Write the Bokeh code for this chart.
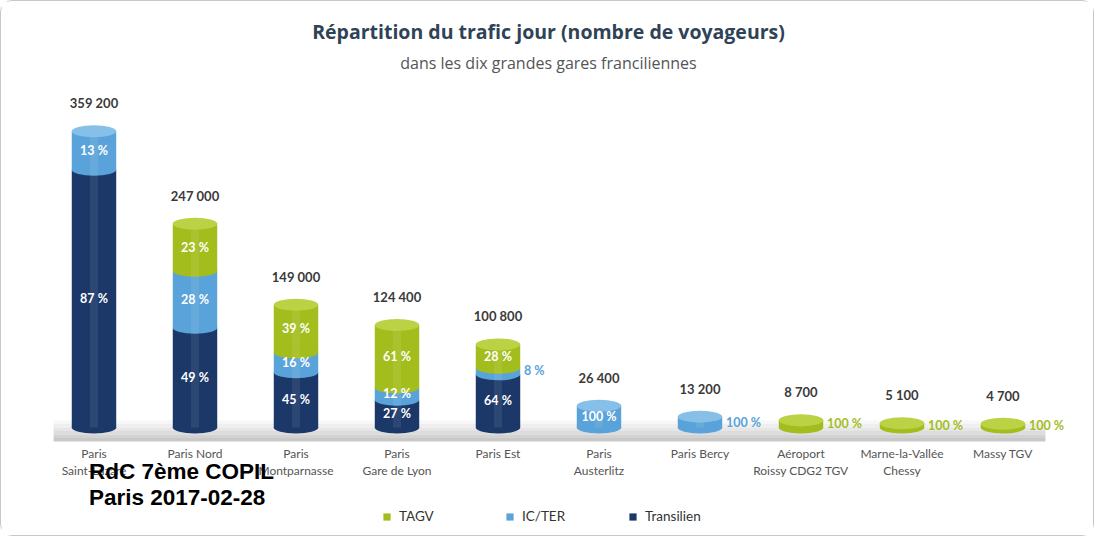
from bokeh.plotting import figure
from bokeh.models import (ColumnDataSource, Legend, LegendItem, Title, BoxAnnotation,
                          Label, FactorRange, Range1d)
from bokeh.embed import file_html
from bokeh.resources import INLINE
from bokeh.core.properties import value

# ---------------- data ----------------
stations = ["Paris\nSaint-Lazare", "Paris Nord", "Paris\nMontparnasse", "Paris\nGare de Lyon",
            "Paris Est", "Paris\nAusterlitz", "Paris Bercy", "Aéroport\nRoissy CDG2 TGV",
            "Marne-la-Vallée\nChessy", "Massy TGV"]
totals = [359200, 247000, 149000, 124400, 100800, 26400, 13200, 8700, 5100, 4700]
total_labels = ["359 200", "247 000", "149 000", "124 400", "100 800",
                "26 400", "13 200", "8 700", "5 100", "4 700"]
transilien_pct = [87, 49, 45, 27, 64, 0, 0, 0, 0, 0]
icter_pct = [13, 28, 16, 12, 8, 100, 100, 0, 0, 0]
tagv_pct = [0, 23, 39, 61, 28, 0, 0, 100, 100, 100]

series = ["Transilien", "IC/TER", "TAGV"]          # stacking order, bottom to top
pcts = {"Transilien": transilien_pct, "IC/TER": icter_pct, "TAGV": tagv_pct}
colors = {"Transilien": "#1c3869", "IC/TER": "#5aa3da", "TAGV": "#a3bd1c"}
cap_colors = {"Transilien": "#2c4a80", "IC/TER": "#86c0e8", "TAGV": "#bcd245"}

title_main = "Répartition du trafic jour (nombre de voyageurs)"
title_sub = "dans les dix grandes gares franciliennes"
overlay_1 = "RdC 7ème COPIL"
overlay_2 = "Paris 2017-02-28"

FONT = "Lato"
TFONT = "Open Sans"
BAR_W = 0.44
CAP_H = 12

p = figure(x_range=FactorRange(*stations, range_padding=0.297, range_padding_units="absolute"),
           y_range=Range1d(-123700, 423300),
           width=1094, height=536, output_backend="svg", toolbar_location=None,
           min_border_left=12, min_border_right=12, min_border_top=77, min_border_bottom=8)
p.styles = {"border": "1.5px solid #c8c8c8", "border-radius": "12px"}
p.outline_line_color = None
p.xgrid.grid_line_color = None
p.ygrid.grid_line_color = None
p.yaxis.visible = False
p.xaxis.visible = False

# floor band (gradient from light to grey)
floor_cols = ["#f7f7f7", "#efefef", "#e6e6e6", "#dcdcdc", "#d2d2d2", "#c8c8c8"]
edges = [8500, 4200, 0, -4200, -8400, -12600, -17000]
for i, c in enumerate(floor_cols):
    p.add_layout(BoxAnnotation(left=0.1, right=9.92, top=edges[i], bottom=edges[i + 1],
                               fill_color=c, fill_alpha=1, line_color=None, level="underlay"))

# ---------------- cylinders ----------------
bottom = [0.0] * len(stations)
renderers = {}
top_series = [None] * len(stations)
label_rows = dict(x=[], y=[], text=[], color=[], xoff=[], align=[])
for s in series:
    vals = [t * q / 100.0 for t, q in zip(totals, pcts[s])]
    top = [b + v for b, v in zip(bottom, vals)]
    src = ColumnDataSource(dict(x=stations, bottom=bottom, top=top))
    r = p.vbar(x="x", bottom="bottom", top="top", width=BAR_W, source=src,
               fill_color=colors[s], line_color=None)
    renderers[s] = r
    # curved bottom edge of each non-empty segment
    ex = [st for st, v in zip(stations, vals) if v > 0]
    ey = [b for b, v in zip(bottom, vals) if v > 0]
    p.ellipse(x=ex, y=ey, width=BAR_W, height=CAP_H, height_units="screen",
              fill_color=colors[s], line_color=None)
    for i, v in enumerate(vals):
        if v > 0:
            top_series[i] = s
            inside = v >= 14000
            label_rows["x"].append(stations[i])
            label_rows["y"].append(bottom[i] + v / 2.0)
            label_rows["text"].append(f"{pcts[s][i]} %")
            label_rows["color"].append("white" if inside else colors[s])
            label_rows["xoff"].append(0 if inside else 26)
            label_rows["align"].append("center" if inside else "left")
    bottom = top

# highlight stripe
p.vbar(x=stations, bottom=[0] * len(stations), top=totals, width=0.08,
       fill_color="white", fill_alpha=0.08, line_color=None)

# top caps
p.ellipse(x=stations, y=totals, width=BAR_W, height=CAP_H, height_units="screen",
          fill_color=[cap_colors[s] for s in top_series], line_color=None)

# percent labels
p.text(x="x", y="y", text="text", source=ColumnDataSource(label_rows),
       text_color="color", x_offset="xoff", text_align="align", text_baseline="middle",
       text_font=value(FONT), text_font_style="bold", text_font_size="12.5px")

# totals
p.text(x=stations, y=totals, text=total_labels, y_offset=-28, text_align="center",
       text_baseline="middle", text_color="#3a3a3a", text_font=value(FONT),
       text_font_style="bold", text_font_size="13px")

# category labels under the floor
p.text(x=stations, y=[0] * len(stations), text=stations, y_offset=18, text_align="center",
       text_baseline="top", text_color="#555555", text_font=value(FONT),
       text_font_size="12px", text_line_height=1.15)

# titles
p.add_layout(Title(text=title_sub, align="center", text_font=TFONT, text_font_size="16px",
                   text_font_style="normal", text_color="#555555", standoff=10), "above")
p.add_layout(Title(text=title_main, align="center", text_font=TFONT, text_font_size="19.5px",
                   text_font_style="bold", text_color="#2f4356", standoff=0), "above")

# legend
legend = Legend(items=[LegendItem(label="TAGV", renderers=[renderers["TAGV"]]),
                       LegendItem(label="IC/TER", renderers=[renderers["IC/TER"]]),
                       LegendItem(label="Transilien", renderers=[renderers["Transilien"]])],
                orientation="horizontal", location=(369, 5), glyph_width=9, glyph_height=9,
                label_standoff=8, spacing=46, label_width=60, border_line_color=None,
                background_fill_alpha=0, label_text_font=FONT, label_text_font_size="13.5px",
                label_text_color="#333333", padding=0, margin=0)
p.add_layout(legend, "center")

# overlay annotation
for txt, yy in [(overlay_1, -53400), (overlay_2, -84900)]:
    p.add_layout(Label(x=0.45, y=yy, text=txt, text_font="Liberation Sans",
                       text_font_style="bold", text_font_size="22.5px", text_color="black",
                       text_baseline="middle", text_align="left"))

open("out.html", "w").write(file_html(p, INLINE))
